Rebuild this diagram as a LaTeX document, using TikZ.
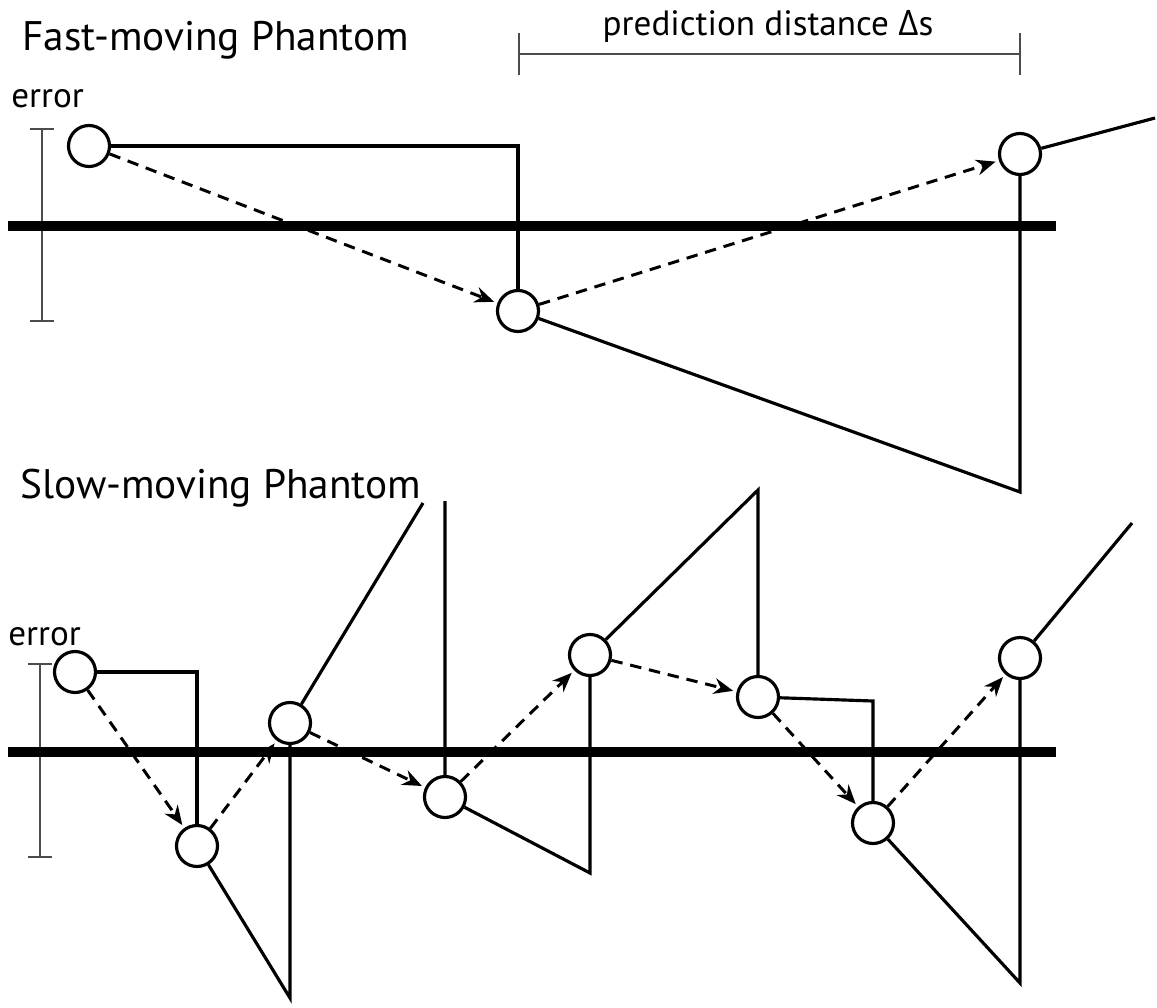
\documentclass[tikz,border=0pt]{standalone}
\usepackage{fontspec}
\setmainfont{PT Sans}
\newfontfamily\grk{Open Sans}
\usetikzlibrary{arrows.meta}

\begin{document}
\begin{tikzpicture}[x=0.02cm,y=-0.02cm,
  phantom/.style={circle,draw,line width=1.8pt,fill=white,minimum size=0.82cm,inner sep=0pt},
  track/.style={line width=5.8pt},
  trace/.style={line width=1.8pt},
  pred/.style={line width=1.7pt,dash pattern=on 6.5pt off 4.5pt,
    -{Stealth[length=11pt,width=9pt]},shorten >=2pt},
  ruler/.style={line width=1.1pt,black!70},
  lbl/.style={font=\fontsize{20}{24}\selectfont,anchor=base west,inner sep=0pt}]
  \useasboundingbox (0,0) rectangle (1157,1008);

  % fast-moving phantom
  \node[lbl,font=\fontsize{23.5}{27}\selectfont] (fasttitle) at (22,50) {Fast-moving Phantom};
  \node[lbl] (fasterr) at (11,107) {error};
  \draw[ruler,{Bar[width=0.5cm]}-{Bar[width=0.5cm]}] (42,128) -- (42,322);
  \coordinate (pl) at (518,54);
  \coordinate (pr) at (1021,54);
  \draw[ruler,{Bar[width=0.86cm]}-{Bar[width=0.86cm]}] (pl) -- (pr);
  \node[lbl,anchor=base] (predlbl) at (768,35) {prediction distance {\grk Δ}s};

  \draw[track] (8,226) -- (1056,226);

  \node[phantom] (a1) at (89,146) {};
  \node[phantom] (a2) at (518,311) {};
  \node[phantom] (a3) at (1020,154) {};
  \coordinate (f2) at (1020,492);
  \coordinate (f3) at (1155,118);

  \draw[trace] (a1) -| (a2);
  \draw[trace] (a2) -- (f2) -- (a3);
  \draw[trace] (a3) -- (f3);
  \draw[pred] (a1) -- (a2);
  \draw[pred] (a2) -- (a3);

  % slow-moving phantom
  \node[lbl,font=\fontsize{23.5}{27}\selectfont] (slowtitle) at (20,498) {Slow-moving Phantom};
  \node[lbl] (slowerr) at (8,645) {error};
  \draw[ruler,{Bar[width=0.5cm]}-{Bar[width=0.5cm]}] (40,663) -- (40,858);

  \draw[track] (8,752) -- (1056,752);

  \node[phantom] (b1) at (75,672) {};
  \node[phantom] (b2) at (197,846) {};
  \node[phantom] (b3) at (290,723) {};
  \node[phantom] (b4) at (445,797) {};
  \node[phantom] (b5) at (590,655) {};
  \node[phantom] (b6) at (758,697) {};
  \node[phantom] (b7) at (873,823) {};
  \node[phantom] (b8) at (1020,658) {};
  \coordinate (g2) at (290,998);
  \coordinate (g3) at (423,503);
  \coordinate (g4) at (445,501);
  \coordinate (g5) at (590,873);
  \coordinate (g6) at (758,490);
  \coordinate (g7) at (873,701);
  \coordinate (g8) at (1020,983);
  \coordinate (g9) at (1132,523);

  \draw[trace] (b1) -| (b2);
  \draw[trace] (b2) -- (g2) -- (b3) -- (g3);
  \draw[trace] (g4) -- (b4) -- (g5) -- (b5) -- (g6) -- (b6) -- (g7) -- (b7) -- (g8) -- (b8) -- (g9);
  \draw[pred] (b1) -- (b2);
  \draw[pred] (b2) -- (b3);
  \draw[pred] (b3) -- (b4);
  \draw[pred] (b4) -- (b5);
  \draw[pred] (b5) -- (b6);
  \draw[pred] (b6) -- (b7);
  \draw[pred] (b7) -- (b8);
\end{tikzpicture}
\end{document}
